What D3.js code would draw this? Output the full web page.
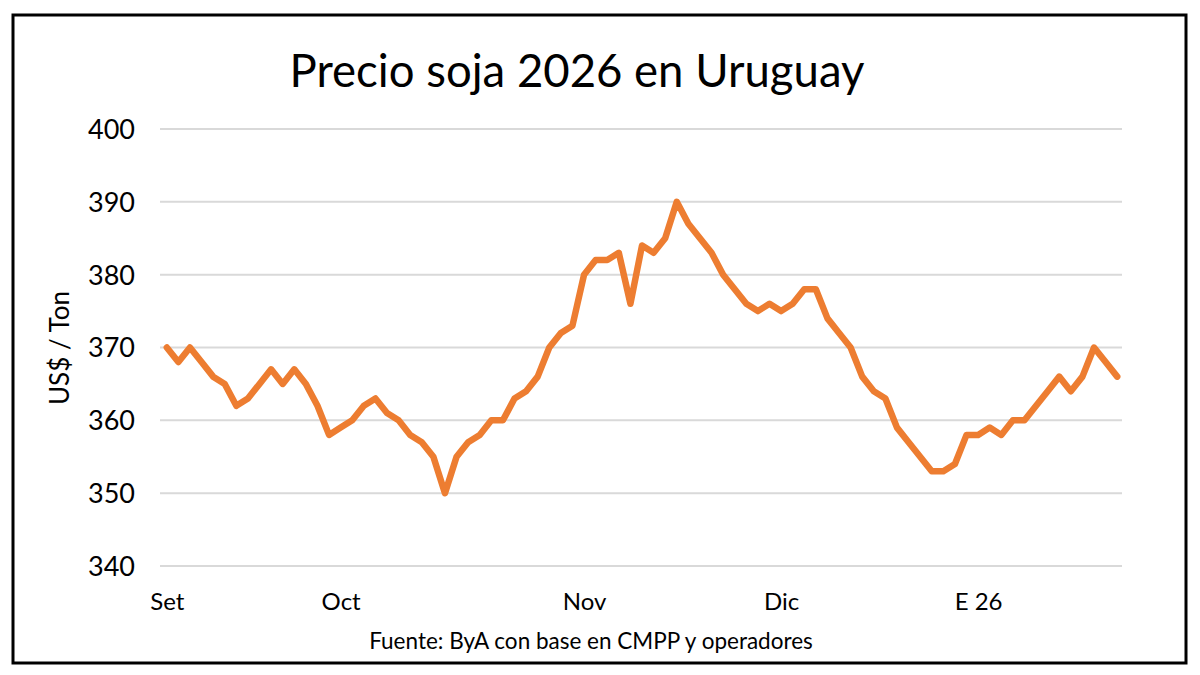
<!DOCTYPE html>
<html lang="es">
<head>
<meta charset="UTF-8">
<title>Precio soja 2026 en Uruguay</title>
<script src="https://cdn.jsdelivr.net/npm/d3@7/dist/d3.min.js"></script>
<style>
  body { margin: 0; background: #fff; }
  text { font-family: Lato, "Open Sans", sans-serif; fill: #000; }
</style>
</head>
<body>
<svg width="1200" height="675"></svg>
<script>
// precio diario US$/ton, set 2025 - ene 2026
var precios = [
  370, 368, 370, 368, 366, 365, 362, 363, 365, 367,
  365, 367, 365, 362, 358, 359, 360, 362, 363, 361,
  360, 358, 357, 355, 350, 355, 357, 358, 360, 360,
  363, 364, 366, 370, 372, 373, 380, 382, 382, 383,
  376, 384, 383, 385, 390, 387, 385, 383, 380, 378,
  376, 375, 376, 375, 376, 378, 378, 374, 372, 370,
  366, 364, 363, 359, 357, 355, 353, 353, 354, 358,
  358, 359, 358, 360, 360, 362, 364, 366, 364, 366,
  370, 368, 366
];
// posicion de cada mes en la serie
var mesIndice = [0, 15, 36, 53, 70];
var mesEtiqueta = ["Set", "Oct", "Nov", "Dic", "E 26"];
var yTicks = [340, 350, 360, 370, 380, 390, 400];

var svg = d3.select("svg");

// marco
svg.append("rect")
  .attr("x", 13).attr("y", 15)
  .attr("width", 1173).attr("height", 648)
  .attr("fill", "#fff")
  .attr("stroke", "#000")
  .attr("stroke-width", 3);

var x = d3.scalePoint()
  .domain(d3.range(precios.length))
  .range([161, 1123])
  .padding(0.5);

var y = d3.scaleLinear()
  .domain([340, 400])
  .range([566, 129]);

// grilla
svg.append("g")
  .selectAll("line")
  .data(yTicks)
  .enter()
  .append("line")
  .attr("x1", 160).attr("x2", 1122)
  .attr("y1", function (d) { return y(d); })
  .attr("y2", function (d) { return y(d); })
  .attr("stroke", "#d9d9d9")
  .attr("stroke-width", 2);

// eje y
var yAxis = d3.axisLeft(y).tickValues(yTicks).tickSize(0).tickPadding(0);
var gy = svg.append("g").attr("transform", "translate(135,0)").call(yAxis);
gy.select(".domain").remove();
gy.selectAll("text")
  .style("font-size", "27px")
  .attr("dy", "0.35em");

// eje x
var xAxis = d3.axisBottom(x)
  .tickValues(mesIndice)
  .tickFormat(function (d) { return mesEtiqueta[mesIndice.indexOf(d)]; })
  .tickSize(0)
  .tickPadding(0);
var gx = svg.append("g").attr("transform", "translate(0,566)").call(xAxis);
gx.select(".domain").remove();
gx.selectAll("text")
  .style("font-size", "24px")
  .attr("y", 44)
  .attr("dy", 0);

// linea de precio
var line = d3.line()
  .x(function (d, i) { return x(i); })
  .y(function (d) { return y(d); });

svg.append("path")
  .datum(precios)
  .attr("d", line)
  .attr("fill", "none")
  .attr("stroke", "#ED7D31")
  .attr("stroke-width", 6.5)
  .attr("stroke-linejoin", "round")
  .attr("stroke-linecap", "round");

// titulo
svg.append("text")
  .attr("x", 577).attr("y", 87)
  .attr("text-anchor", "middle")
  .style("font-size", "45.5px")
  .text("Precio soja 2026 en Uruguay");

// titulo eje y
svg.append("text")
  .attr("transform", "translate(69,348) rotate(-90)")
  .attr("text-anchor", "middle")
  .style("font-size", "26px")
  .text("US$ / Ton");

// fuente
svg.append("text")
  .attr("x", 591).attr("y", 649)
  .attr("text-anchor", "middle")
  .style("font-size", "22.5px")
  .text("Fuente: ByA con base en CMPP y operadores");
</script>
</body>
</html>
